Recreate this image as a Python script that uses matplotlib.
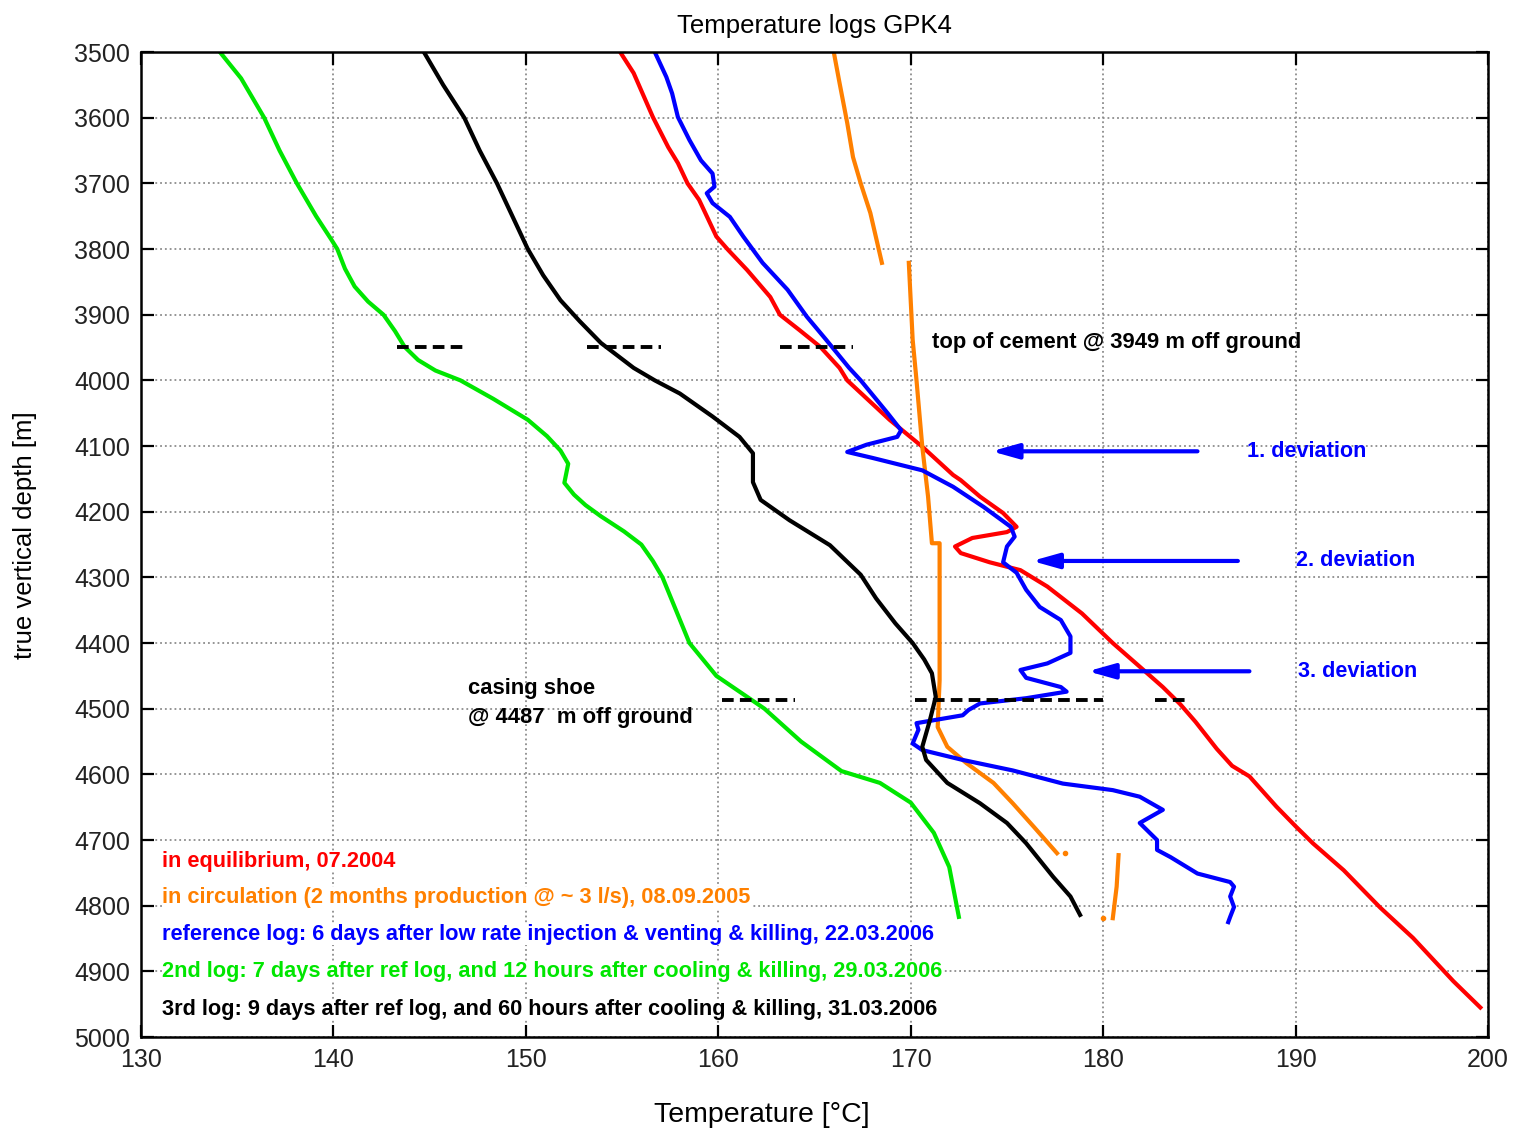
import matplotlib
matplotlib.use("Agg")
import matplotlib.pyplot as plt
import numpy as np

plt.rcParams['font.family'] = ['Liberation Sans', 'DejaVu Sans']

# equilibrium log, 07.2004 (red)
redDepth = [3500, 3532, 3599, 3645, 3669, 3700, 3725, 3781, 3801, 3832, 3873, 3900, 3923, 3949,
            3981, 4000, 4060, 4101, 4144, 4152, 4177, 4202, 4223, 4231, 4240, 4253, 4263, 4277,
            4289, 4314, 4355, 4400, 4436, 4467, 4493, 4520, 4561, 4587, 4603, 4649, 4679, 4705,
            4746, 4803, 4849, 4915, 4955]
redTemp = [154.9, 155.6, 156.6, 157.4, 157.9, 158.4, 159.0, 159.9, 160.5, 161.5, 162.7, 163.2,
           164.2, 165.3, 166.3, 166.7, 168.9, 170.6, 172.2, 172.6, 173.6, 174.8, 175.5, 175.0,
           173.2, 172.3, 172.6, 174.1, 175.7, 177.1, 178.9, 180.5, 181.9, 183.1, 184.0, 184.8,
           185.9, 186.7, 187.6, 189.0, 190.0, 190.9, 192.5, 194.4, 196.1, 198.2, 199.6]

# circulation log, 08.09.2005 (orange), three pieces
orangeDepth1 = [3500, 3547, 3608, 3660, 3700, 3745, 3821]
orangeTemp1 = [166.0, 166.3, 166.7, 167.0, 167.4, 167.9, 168.5]
orangeDepth2 = [3821, 3938, 4000, 4101, 4177, 4248, 4248, 4355, 4457, 4528, 4558, 4583, 4613,
                4644, 4680, 4720]
orangeTemp2 = [169.9, 170.1, 170.3, 170.6, 170.9, 171.1, 171.5, 171.5, 171.5, 171.4, 171.9,
               172.9, 174.3, 175.3, 176.4, 177.6]
orangeDepth3 = [4723, 4771, 4819]
orangeTemp3 = [180.8, 180.7, 180.5]
orangeDotDepth = [4720, 4819]
orangeDotTemp = [178.0, 180.0]

# reference log, 22.03.2006 (blue)
blueDepth = [3500, 3538, 3563, 3599, 3634, 3665, 3685, 3705, 3715, 3730, 3751, 3781, 3821, 3862,
             3903, 3938, 3981, 4000, 4050, 4076, 4086, 4098, 4109, 4118, 4137, 4162, 4193, 4223,
             4238, 4253, 4277, 4293, 4319, 4345, 4365, 4390, 4415, 4431, 4441, 4453, 4467, 4474,
             4484, 4492, 4502, 4510, 4522, 4532, 4553, 4563, 4578, 4594, 4614, 4624, 4634, 4654,
             4674, 4700, 4715, 4726, 4751, 4764, 4771, 4786, 4802, 4817, 4825]
blueTemp = [156.7, 157.3, 157.6, 157.9, 158.5, 159.1, 159.7, 159.8, 159.4, 159.7, 160.6, 161.3,
            162.3, 163.6, 164.6, 165.6, 166.8, 167.4, 168.8, 169.5, 169.3, 167.7, 166.7, 168.0,
            170.6, 172.2, 173.8, 175.2, 175.4, 175.0, 174.8, 175.5, 176.0, 176.7, 177.8, 178.3,
            178.3, 177.1, 175.7, 176.0, 177.8, 178.1, 176.0, 173.6, 173.0, 172.7, 170.3, 170.4,
            170.1, 170.6, 172.7, 175.3, 177.9, 180.5, 181.9, 183.1, 181.9, 182.8, 182.8, 183.5,
            184.9, 186.6, 186.8, 186.6, 186.8, 186.6, 186.5]

# 2nd log, 29.03.2006 (green)
greenDepth = [3500, 3540, 3580, 3600, 3650, 3700, 3750, 3786, 3800, 3830, 3857, 3880, 3900, 3925,
              3949, 3969, 3985, 4000, 4028, 4060, 4085, 4107, 4127, 4156, 4174, 4190, 4207, 4230,
              4250, 4275, 4300, 4350, 4400, 4450, 4500, 4550, 4595, 4613, 4643, 4689, 4741, 4817]
greenTemp = [134.1, 135.2, 136.0, 136.4, 137.2, 138.1, 139.1, 139.9, 140.2, 140.6, 141.1, 141.8,
             142.6, 143.2, 143.7, 144.4, 145.3, 146.6, 148.3, 150.1, 151.1, 151.8, 152.2, 152.0,
             152.5, 153.1, 153.9, 155.1, 156.0, 156.6, 157.1, 157.8, 158.5, 159.9, 162.4, 164.3,
             166.4, 168.4, 170.0, 171.2, 172.0, 172.5]

# 3rd log, 31.03.2006 (black)
blackDepth = [3500, 3550, 3600, 3650, 3700, 3750, 3800, 3840, 3878, 3910, 3943, 3981, 4000, 4020,
              4055, 4086, 4111, 4137, 4155, 4182, 4213, 4251, 4296, 4332, 4370, 4400, 4425, 4446,
              4482, 4517, 4558, 4578, 4613, 4644, 4674, 4705, 4756, 4786, 4814]
blackTemp = [144.7, 145.7, 146.8, 147.6, 148.5, 149.3, 150.1, 150.9, 151.8, 152.8, 153.9, 155.6,
             156.7, 158.0, 159.7, 161.1, 161.8, 161.8, 161.8, 162.2, 163.7, 165.8, 167.4, 168.2,
             169.2, 170.1, 170.7, 171.1, 171.3, 171.0, 170.6, 170.8, 171.9, 173.6, 175.0, 176.0,
             177.4, 178.3, 178.8]

# dashed markers: top of cement and casing shoe
cementDepth = 3949
cementSpans = [(143.3, 147.0), (153.2, 157.0), (163.2, 167.0)]
shoeDepth = 4487
shoeSpans = [(160.2, 164.0), (170.2, 180.0), (182.7, 184.5)]

# deviation arrows: (depth, tail temp, head temp, label temp, label)
deviations = [(4108, 184.9, 174.2, 187.5, '1. deviation'),
              (4275, 187.0, 176.3, 190.0, '2. deviation'),
              (4443, 187.6, 179.2, 190.1, '3. deviation')]

legendTexts = ['in equilibrium, 07.2004',
               'in circulation (2 months production @ ~ 3 l/s), 08.09.2005',
               'reference log: 6 days after low rate injection & venting & killing, 22.03.2006',
               '2nd log: 7 days after ref log, and 12 hours after cooling & killing, 29.03.2006',
               '3rd log: 9 days after ref log, and 60 hours after cooling & killing, 31.03.2006']
legendColors = ['#ff0000', '#ff8000', '#0000ff', '#00e600', 'black']
legendDepths = [4732, 4787, 4844, 4900, 4958]

fig = plt.figure(figsize=(15.13, 11.34), dpi=100)
ax = fig.add_axes([0.0932, 0.0855, 0.8903, 0.8686])

lw = 3.0
ax.plot(redTemp, redDepth, color='#ff0000', lw=lw)
ax.plot(orangeTemp1, orangeDepth1, color='#ff8000', lw=lw)
ax.plot(orangeTemp2, orangeDepth2, color='#ff8000', lw=lw)
ax.plot(orangeTemp3, orangeDepth3, color='#ff8000', lw=lw)
ax.plot(orangeDotTemp, orangeDotDepth, 'o', color='#ff8000', ms=3)
ax.plot(blueTemp, blueDepth, color='#0000ff', lw=lw)
ax.plot(greenTemp, greenDepth, color='#00e600', lw=lw)
ax.plot(blackTemp, blackDepth, color='black', lw=lw)

for x0, x1 in cementSpans:
    ax.plot([x0, x1], [cementDepth, cementDepth], color='black', lw=2.8, ls=(0, (3, 1.6)))
for x0, x1 in shoeSpans:
    ax.plot([x0, x1], [shoeDepth, shoeDepth], color='black', lw=2.8, ls=(0, (3, 1.6)))

for depth, tail, head, lx, label in deviations:
    ax.annotate('', xy=(head, depth), xytext=(tail, depth),
                arrowprops=dict(arrowstyle='-|>,head_length=1.6,head_width=0.45',
                                color='#0000ff', lw=3, shrinkA=0, shrinkB=0))
    ax.text(lx, depth, label, color='#0000ff', fontsize=15.6, fontweight='bold',
            va='center', ha='left')

ax.text(171.1, 3942, 'top of cement @ 3949 m off ground', fontsize=15.8, fontweight='bold',
        va='center', ha='left')
ax.text(147.0, 4492, 'casing shoe\n@ 4487  m off ground', fontsize=15.8, fontweight='bold',
        va='center', ha='left', linespacing=1.5)

for txt, c, d in zip(legendTexts, legendColors, legendDepths):
    ax.text(131.1, d, txt, color=c, fontsize=15.7, fontweight='bold', va='center', ha='left',
            bbox=dict(facecolor='white', edgecolor='none', pad=0))

ax.set_xlim(130, 200)
ax.set_ylim(5000, 3500)
ax.set_xticks(np.arange(130, 201, 10))
ax.set_yticks(np.arange(3500, 5001, 100))
ax.grid(True, linestyle=':', color='0.55', lw=1.3)
ax.tick_params(direction='in', length=9, width=1.6, top=True, right=True, labelsize=18, pad=8,
               labelcolor='#222222')
for s in ax.spines.values():
    s.set_linewidth(1.8)

ax.set_title('Temperature logs GPK4', fontsize=18.5, pad=14)
ax.set_xlabel('Temperature [°C]', fontsize=20.5)
ax.set_ylabel('true vertical depth [m]', fontsize=18.5)
ax.xaxis.set_label_coords(0.461, -0.066)
ax.yaxis.set_label_coords(-0.077, 0.51)

fig.savefig('out.png', dpi=100)
